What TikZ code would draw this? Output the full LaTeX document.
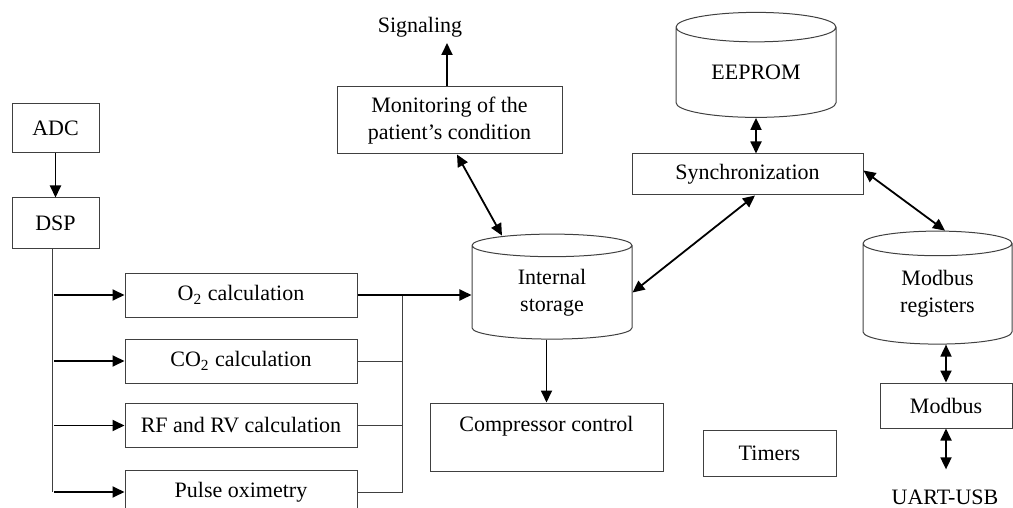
\documentclass[tikz,border=0pt]{standalone}
\usepackage{fontspec}
\setmainfont{Liberation Serif}
\usetikzlibrary{arrows.meta, positioning, shapes.geometric}

\tikzset{
  block/.style={draw=black!75, line width=0.5pt, rectangle, inner sep=0pt, align=center},
  store/.style={draw=black!75, line width=0.5pt, cylinder, shape border rotate=90, aspect=0.33, inner sep=0pt, align=center},
  bus/.style={draw=black!75, line width=0.5pt},
  link/.style={line width=0.9pt, -{Triangle[length=6pt,width=5.5pt]}},
  twoway/.style={line width=0.9pt, {Triangle[length=6pt,width=5.5pt]}-{Triangle[length=6pt,width=5.5pt]}}
}

\begin{document}
\begin{tikzpicture}[x=0.5pt, y=-0.5pt, font=\fontsize{11}{13.5}\selectfont]
\useasboundingbox (0,0) rectangle (1013,508);
% acquisition
\node[block, minimum width=43.5pt, minimum height=24.5pt] (adc) at (55.5,128.5) {ADC};
\node[block, minimum width=43.5pt, minimum height=25pt] (dsp) at (55.5,223) {DSP};
% calculations
\node[block, minimum width=116pt, minimum height=22pt] (o2) at (241,295) {O\textsubscript{2} calculation};
\node[block, minimum width=116pt, minimum height=22pt] (co2) at (241,361) {CO\textsubscript{2} calculation};
\node[block, minimum width=116pt, minimum height=22pt] (rfrv) at (241,425.5) {RF and RV calculation};
\node[block, minimum width=116pt, minimum height=22pt] (pulse) at (241,492) {Pulse oximetry};
% storage and control
\node[block, minimum width=112.5pt, minimum height=33.5pt] (mon) at (449.5,120.5) {Monitoring of the\\patient's condition};
\node (sig) at (420,27) {Signaling};
\coordinate (sigtip) at (447,43);
\node[store, minimum width=80pt, minimum height=52.5pt] (store) at (552,292.5) {Internal\\storage};
\node[block, minimum width=116.5pt, minimum height=34pt] (comp) at (546.5,437) {Compressor control\\\mbox{}};
\node[block, minimum width=66.5pt, minimum height=23pt] (timers) at (769.5,453) {Timers};
% communication
\node[store, minimum width=80pt, minimum height=52.5pt] (eeprom) at (756,72.5) {EEPROM};
\node[block, minimum width=115.5pt, minimum height=20.5pt] (sync) at (747.5,174.5) {Synchronization};
\node[store, minimum width=74.5pt, minimum height=56.5pt] (modreg) at (937.5,294) {Modbus\\registers};
\node[block, minimum width=66pt, minimum height=22.5pt] (modbus) at (946,405.5) {Modbus};
\node[anchor=base] (uart) at (945,504) {UART-USB};

\draw[link] (adc) -- (dsp);
\draw[bus] ([xshift=-1.75pt]dsp.south) -- ([xshift=-1.75pt]dsp.south |- pulse);
\foreach \n in {o2, co2, rfrv, pulse}
  \draw[link] ([xshift=-0.75pt]dsp.south |- \n.west) -- (\n.west);
\foreach \n in {co2, rfrv, pulse}
  \draw[bus] (\n.east) -- ++(45,0) coordinate (j\n);
\draw[bus] (jpulse) -- (jpulse |- o2.east);
\draw[link] (o2.east) -- (o2.east -| store.west);
\draw[link] (sigtip |- mon.north) -- (sigtip);
\draw[twoway] ([xshift=3.75pt]mon.south) -- ([xshift=-25pt,yshift=-1pt]store.north);
\draw[link] (store.south -| comp.north) -- (comp.north);
\draw[twoway] (eeprom.south) -- (eeprom.south |- sync.north);
\draw[twoway] ([xshift=3.75pt]sync.south) -- (store.east);
\draw[twoway] ([yshift=2pt]sync.east) -- ([xshift=3.75pt]modreg.north);
\draw[twoway] (modreg.south -| modbus.north) -- (modbus.north);
\draw[twoway] (modbus.south) -- ([yshift=6.5pt]modbus.south |- uart.north);
\end{tikzpicture}
\end{document}
